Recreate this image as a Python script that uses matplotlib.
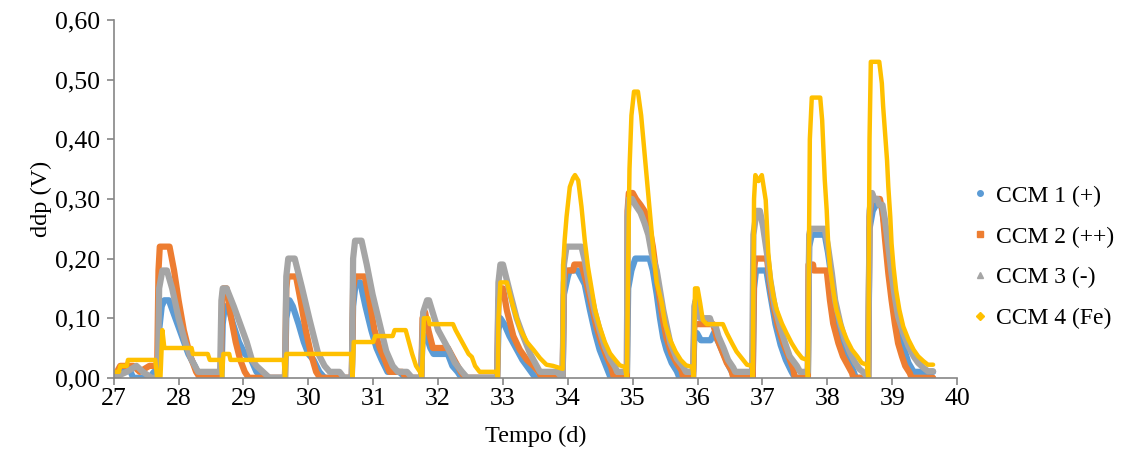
import matplotlib
matplotlib.use('Agg')
import matplotlib.pyplot as plt
from matplotlib.lines import Line2D
from matplotlib.ticker import FuncFormatter, MultipleLocator

plt.rcParams['font.family'] = ['Liberation Serif', 'DejaVu Serif']

# CCM 1 (+)
ccm1_t = [27.00, 27.10, 27.22, 27.30, 27.55, 27.62, 27.68, 27.70, 27.74, 27.78, 27.85, 27.95, 28.05, 28.15, 28.25, 28.33,
          28.66, 28.68, 28.71, 28.76, 28.84, 28.93, 29.02, 29.12, 29.20, 29.30,
          29.64, 29.66, 29.71, 29.76, 29.85, 29.93, 30.00, 30.08, 30.17, 30.25,
          30.67, 30.69, 30.73, 30.80, 30.88, 30.97, 31.05, 31.13, 31.22, 31.40, 31.50,
          31.74, 31.76, 31.82, 31.88, 31.93, 32.15, 32.22, 32.30, 32.36,
          32.91, 32.93, 32.96, 33.02, 33.10, 33.20, 33.30, 33.40, 33.50,
          33.92, 33.94, 34.00, 34.03, 34.15, 34.26, 34.34, 34.42, 34.49, 34.57, 34.62, 34.66,
          34.91, 34.93, 34.98, 35.04, 35.26, 35.31, 35.37, 35.42, 35.47, 35.52, 35.60, 35.68, 35.72,
          35.93, 35.95, 35.99, 36.05, 36.20, 36.25, 36.32, 36.40, 36.48, 36.55, 36.58,
          36.85, 36.87, 36.90, 37.06, 37.12, 37.20, 37.28, 37.36, 37.44, 37.50,
          37.70, 37.72, 37.76, 37.96, 38.01, 38.07, 38.12, 38.20, 38.27, 38.35, 38.40, 38.44,
          38.63, 38.65, 38.70, 38.75, 38.83, 38.89, 38.94, 39.02, 39.09, 39.17, 39.25, 39.33, 39.63]
ccm1_v = [0.00, 0.01, 0.02, 0.00, 0.00, 0.01, 0.01, 0.08, 0.12, 0.13, 0.13, 0.10, 0.07, 0.04, 0.02, 0.00,
          0.00, 0.09, 0.12, 0.12, 0.09, 0.06, 0.04, 0.03, 0.01, 0.00,
          0.00, 0.10, 0.13, 0.12, 0.09, 0.06, 0.04, 0.03, 0.01, 0.00,
          0.00, 0.12, 0.16, 0.16, 0.12, 0.08, 0.05, 0.03, 0.01, 0.01, 0.00,
          0.00, 0.07, 0.07, 0.05, 0.04, 0.04, 0.02, 0.01, 0.00,
          0.00, 0.08, 0.10, 0.09, 0.07, 0.05, 0.03, 0.015, 0.00,
          0.00, 0.14, 0.17, 0.18, 0.18, 0.157, 0.114, 0.075, 0.047, 0.025, 0.011, 0.00,
          0.00, 0.15, 0.18, 0.20, 0.20, 0.18, 0.14, 0.10, 0.067, 0.047, 0.025, 0.011, 0.00,
          0.00, 0.07, 0.075, 0.063, 0.063, 0.075, 0.06, 0.04, 0.02, 0.005, 0.00,
          0.00, 0.15, 0.18, 0.18, 0.14, 0.09, 0.055, 0.03, 0.012, 0.00,
          0.00, 0.22, 0.24, 0.24, 0.21, 0.164, 0.12, 0.075, 0.047, 0.025, 0.012, 0.00,
          0.00, 0.25, 0.28, 0.29, 0.29, 0.25, 0.20, 0.14, 0.09, 0.053, 0.025, 0.01, 0.01]

# CCM 2 (++)
ccm2_t = [27.00, 27.10, 27.30, 27.40, 27.55, 27.67, 27.69, 27.71, 27.86, 27.93, 28.00, 28.08, 28.17, 28.27, 28.33,
          28.65, 28.67, 28.69, 28.74, 28.81, 28.88, 28.95, 29.02, 29.08,
          29.64, 29.66, 29.68, 29.81, 29.88, 29.96, 30.04, 30.12, 30.18,
          30.67, 30.69, 30.72, 30.87, 30.94, 31.02, 31.10, 31.18, 31.25, 31.45, 31.50,
          31.74, 31.76, 31.80, 31.85, 31.92, 32.15, 32.25, 32.35, 32.42,
          32.91, 32.93, 32.96, 33.00, 33.06, 33.16, 33.26, 33.37, 33.47, 33.55, 33.60,
          33.92, 33.94, 33.96, 34.08, 34.10, 34.21, 34.29, 34.37, 34.44, 34.52, 34.60, 34.67, 34.71,
          34.91, 34.92, 34.94, 35.00, 35.05, 35.12, 35.18, 35.23, 35.26, 35.31, 35.37, 35.42, 35.47, 35.52,
          35.60, 35.68, 35.75, 35.78,
          35.93, 35.95, 36.01, 36.24, 36.30, 36.37, 36.45, 36.52, 36.55,
          36.85, 36.87, 36.89, 37.07, 37.12, 37.17, 37.24, 37.32, 37.40, 37.47, 37.50,
          37.70, 37.71, 37.78, 37.79, 37.99, 38.04, 38.09, 38.17, 38.24, 38.32, 38.38, 38.40,
          38.63, 38.65, 38.68, 38.81, 38.85, 38.89, 38.94, 38.99, 39.04, 39.09, 39.15, 39.20, 39.27, 39.30, 39.63]
ccm2_v = [0.00, 0.02, 0.02, 0.01, 0.02, 0.02, 0.18, 0.22, 0.22, 0.18, 0.13, 0.08, 0.04, 0.01, 0.00,
          0.00, 0.13, 0.15, 0.15, 0.10, 0.06, 0.03, 0.01, 0.00,
          0.00, 0.15, 0.17, 0.17, 0.13, 0.08, 0.04, 0.01, 0.00,
          0.00, 0.15, 0.17, 0.17, 0.13, 0.08, 0.05, 0.03, 0.01, 0.01, 0.00,
          0.00, 0.10, 0.11, 0.08, 0.05, 0.05, 0.03, 0.01, 0.00,
          0.00, 0.13, 0.15, 0.15, 0.113, 0.07, 0.047, 0.03, 0.02, 0.01, 0.00,
          0.00, 0.16, 0.18, 0.18, 0.19, 0.19, 0.158, 0.12, 0.086, 0.058, 0.035, 0.018, 0.00,
          0.00, 0.28, 0.31, 0.31, 0.30, 0.29, 0.28, 0.27, 0.25, 0.22, 0.17, 0.13, 0.095, 0.067,
          0.04, 0.024, 0.013, 0.00,
          0.00, 0.09, 0.09, 0.09, 0.066, 0.047, 0.025, 0.013, 0.00,
          0.00, 0.18, 0.20, 0.20, 0.153, 0.12, 0.086, 0.058, 0.036, 0.017, 0.00,
          0.00, 0.19, 0.19, 0.18, 0.18, 0.13, 0.091, 0.058, 0.036, 0.02, 0.008, 0.00,
          0.00, 0.27, 0.30, 0.30, 0.28, 0.231, 0.175, 0.13, 0.091, 0.058, 0.036, 0.02, 0.008, 0.00, 0.00]

# CCM 3 (-)
ccm3_t = [27.00, 27.20, 27.35, 27.45, 27.58, 27.68, 27.70, 27.75, 27.82, 27.90, 28.00, 28.10, 28.20, 28.30, 28.64,
          28.66, 28.68, 28.74, 28.85, 28.95, 29.05, 29.13, 29.20, 29.30, 29.40,
          29.64, 29.66, 29.69, 29.79, 29.90, 30.02, 30.15, 30.25, 30.33, 30.48, 30.55,
          30.67, 30.69, 30.72, 30.82, 30.90, 30.99, 31.10, 31.20, 31.30, 31.38, 31.52, 31.60,
          31.74, 31.77, 31.83, 31.86, 32.00, 32.15, 32.26, 32.37, 32.45,
          32.91, 32.93, 32.96, 33.00, 33.11, 33.21, 33.31, 33.42, 33.52, 33.57, 33.83, 33.92,
          33.94, 33.98, 34.21, 34.26, 34.34, 34.42, 34.49, 34.57, 34.65, 34.73, 34.76, 34.91,
          34.92, 34.94, 34.99, 35.04, 35.12, 35.18, 35.24, 35.29, 35.37, 35.47, 35.58, 35.68, 35.78, 35.82, 35.93,
          35.95, 35.97, 36.00, 36.04, 36.19, 36.22, 36.28, 36.32, 36.40, 36.47, 36.55, 36.58, 36.84,
          36.86, 36.91, 36.96, 37.01, 37.07, 37.12, 37.19, 37.27, 37.35, 37.42, 37.53, 37.58, 37.70,
          37.72, 37.74, 37.96, 38.01, 38.07, 38.12, 38.20, 38.27, 38.35, 38.43, 38.50, 38.55, 38.63,
          38.65, 38.69, 38.72, 38.77, 38.80, 38.85, 38.89, 38.94, 38.99, 39.04, 39.09, 39.17, 39.25, 39.33,
          39.40, 39.48, 39.55, 39.63]
ccm3_v = [0.00, 0.01, 0.02, 0.01, 0.00, 0.00, 0.15, 0.18, 0.18, 0.15, 0.10, 0.06, 0.03, 0.01, 0.01,
          0.13, 0.15, 0.15, 0.12, 0.09, 0.06, 0.03, 0.02, 0.01, 0.00,
          0.00, 0.17, 0.20, 0.20, 0.152, 0.097, 0.041, 0.02, 0.01, 0.01, 0.00,
          0.00, 0.20, 0.23, 0.23, 0.19, 0.14, 0.09, 0.045, 0.02, 0.01, 0.01, 0.00,
          0.00, 0.11, 0.13, 0.13, 0.08, 0.05, 0.025, 0.01, 0.00,
          0.00, 0.16, 0.19, 0.19, 0.142, 0.10, 0.07, 0.04, 0.02, 0.01, 0.01, 0.00,
          0.19, 0.22, 0.22, 0.197, 0.147, 0.108, 0.08, 0.052, 0.032, 0.018, 0.01, 0.01,
          0.27, 0.30, 0.30, 0.29, 0.277, 0.26, 0.24, 0.21, 0.18, 0.114, 0.058, 0.032, 0.018, 0.01, 0.01,
          0.12, 0.13, 0.12, 0.10, 0.10, 0.09, 0.086, 0.07, 0.05, 0.03, 0.017, 0.01, 0.01,
          0.24, 0.28, 0.28, 0.253, 0.208, 0.164, 0.119, 0.086, 0.058, 0.036, 0.02, 0.01, 0.01,
          0.24, 0.25, 0.25, 0.22, 0.175, 0.13, 0.091, 0.064, 0.042, 0.025, 0.014, 0.01, 0.00,
          0.28, 0.31, 0.30, 0.30, 0.29, 0.29, 0.264, 0.22, 0.175, 0.136, 0.103, 0.075, 0.053, 0.036,
          0.025, 0.017, 0.011, 0.011]

# CCM 4 (Fe)
ccm4_t = [27.00, 27.08, 27.10, 27.20, 27.22, 27.64, 27.67, 27.72, 27.75, 27.78, 28.20, 28.22, 28.45, 28.48, 28.65,
          28.67, 28.69, 28.78, 28.80, 29.62, 29.64, 29.66, 30.66, 30.68, 30.70, 31.00, 31.03, 31.30, 31.33, 31.50,
          31.55, 31.60, 31.66, 31.72, 31.75, 31.78, 31.85, 31.87, 32.23, 32.27, 32.32, 32.37, 32.42, 32.47, 32.52,
          32.57, 32.64, 32.90, 32.92, 32.93, 32.96, 33.06, 33.16, 33.26, 33.37, 33.47, 33.57, 33.67, 33.77, 33.92,
          33.93, 33.95, 33.98, 34.03, 34.08, 34.11, 34.16, 34.21, 34.26, 34.31, 34.37, 34.42, 34.49, 34.57, 34.65,
          34.73, 34.80, 34.88, 34.91, 34.93, 34.95, 34.98, 35.02, 35.08, 35.13, 35.18, 35.22, 35.27, 35.32, 35.37,
          35.45, 35.50, 35.58, 35.66, 35.74, 35.82, 35.92, 35.94, 35.96, 36.00, 36.04, 36.08, 36.14, 36.39, 36.45,
          36.53, 36.60, 36.68, 36.76, 36.84, 36.85, 36.87, 36.89, 36.94, 36.99, 37.05, 37.07, 37.09, 37.13, 37.17,
          37.22, 37.30, 37.37, 37.45, 37.53, 37.61, 37.69, 37.70, 37.73, 37.76, 37.89, 37.92, 37.94, 37.96, 37.99,
          38.01, 38.04, 38.09, 38.14, 38.22, 38.30, 38.38, 38.46, 38.53, 38.61, 38.63, 38.65, 38.67, 38.80, 38.84,
          38.86, 38.89, 38.92, 38.94, 38.97, 38.99, 39.02, 39.06, 39.11, 39.17, 39.25, 39.33, 39.40, 39.48, 39.55,
          39.63]
ccm4_v = [0.01, 0.01, 0.02, 0.02, 0.03, 0.03, 0.00, 0.00, 0.08, 0.05, 0.05, 0.04, 0.04, 0.03, 0.03,
          0.00, 0.04, 0.04, 0.03, 0.03, 0.00, 0.04, 0.04, 0.00, 0.06, 0.06, 0.07, 0.07, 0.08, 0.08,
          0.06, 0.04, 0.02, 0.01, 0.00, 0.10, 0.10, 0.09, 0.09, 0.08, 0.07, 0.06, 0.05, 0.04, 0.035,
          0.02, 0.01, 0.01, 0.00, 0.10, 0.16, 0.16, 0.118, 0.083, 0.06, 0.047, 0.033, 0.022, 0.02, 0.015,
          0.19, 0.23, 0.27, 0.32, 0.335, 0.34, 0.331, 0.287, 0.231, 0.186, 0.147, 0.114, 0.086, 0.06, 0.041,
          0.03, 0.021, 0.018, 0.00, 0.20, 0.35, 0.44, 0.48, 0.48, 0.44, 0.38, 0.33, 0.27, 0.21, 0.16,
          0.125, 0.09, 0.063, 0.044, 0.03, 0.021, 0.018, 0.00, 0.15, 0.15, 0.125, 0.097, 0.09, 0.09, 0.075,
          0.058, 0.044, 0.033, 0.022, 0.02, 0.00, 0.30, 0.34, 0.33, 0.34, 0.298, 0.253, 0.208, 0.164, 0.136,
          0.114, 0.091, 0.075, 0.058, 0.044, 0.033, 0.03, 0.00, 0.40, 0.47, 0.47, 0.432, 0.382, 0.332, 0.281,
          0.231, 0.186, 0.147, 0.114, 0.086, 0.064, 0.047, 0.036, 0.025, 0.022, 0.00, 0.40, 0.53, 0.53, 0.494,
          0.455, 0.41, 0.365, 0.32, 0.27, 0.225, 0.186, 0.147, 0.114, 0.086, 0.064, 0.047, 0.036, 0.028, 0.022,
          0.022]

labels = ['CCM 1 (+)', 'CCM 2 (++)', 'CCM 3 (-)', 'CCM 4 (Fe)']
colors = ['#5B9BD5', '#ED7D31', '#A5A5A5', '#FFC000']
markers = ['o', 's', '^', 'D']
widths = [4.5, 4.5, 4.5, 3.2]

fig = plt.figure(figsize=(11.26, 4.67), dpi=100)
ax = fig.add_axes([0.101, 0.191, 0.749, 0.766])

series = [(ccm1_t, ccm1_v), (ccm2_t, ccm2_v), (ccm3_t, ccm3_v), (ccm4_t, ccm4_v)]
for (t, v), c, w in zip(series, colors, widths):
    ax.plot(t, v, color=c, lw=w, solid_joinstyle='round', solid_capstyle='round')

ax.set_xlim(27, 40)
ax.set_ylim(0, 0.6)
ax.xaxis.set_major_locator(MultipleLocator(1))
ax.yaxis.set_major_locator(MultipleLocator(0.1))
ax.yaxis.set_major_formatter(FuncFormatter(lambda y, p: ('%.2f' % y).replace('.', ',')))

for s in ['top', 'right']:
    ax.spines[s].set_visible(False)
for s in ['left', 'bottom']:
    ax.spines[s].set_color('#868686')
    ax.spines[s].set_linewidth(1.2)
ax.tick_params(direction='out', length=5, width=1.2, color='#868686', labelsize=18.5)
ax.tick_params(axis='x', pad=2)
ax.tick_params(axis='y', pad=5)

ax.set_xlabel('Tempo (d)', fontsize=17.5, labelpad=12)
ax.set_ylabel('ddp (V)', fontsize=17.5, labelpad=2)

handles = [Line2D([], [], ls='none', marker=m, color=c, markersize=4) for m, c in zip(markers, colors)]
fig.legend(handles, labels, loc='center left', bbox_to_anchor=(0.8435, 0.449), frameon=False,
           fontsize=17, handletextpad=0.25, labelspacing=0.82, handlelength=0.8)

plt.savefig('out.png', dpi=100)
